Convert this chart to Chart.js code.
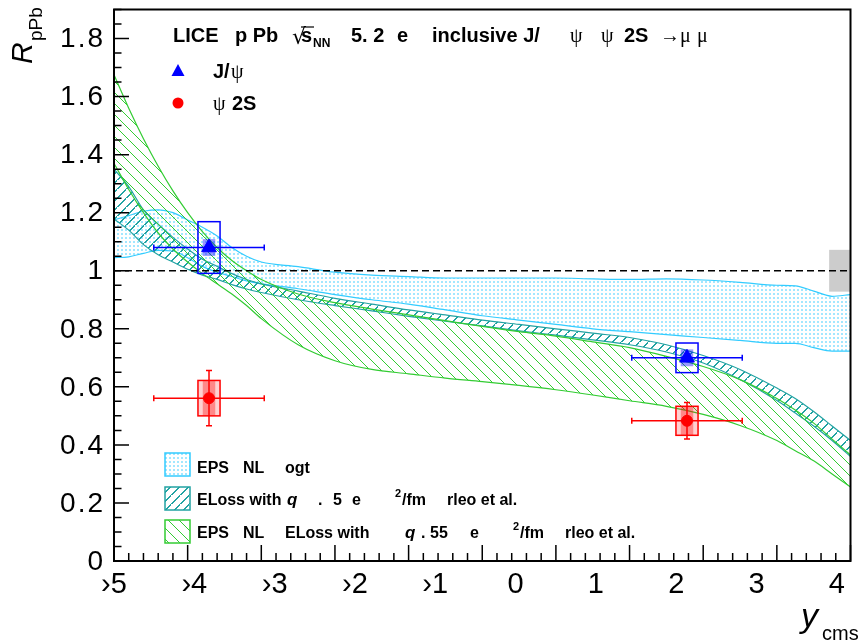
<!DOCTYPE html>
<html>
<head>
<meta charset="utf-8">
<script src="https://cdn.jsdelivr.net/npm/chart.js@4.4.1/dist/chart.umd.min.js"></script>
<style>
  html, body { margin: 0; padding: 0; background: #fff; }
</style>
</head>
<body>
<canvas id="rpPb" width="860" height="644"></canvas>
<script>
// rapidity grid shared by the three model bands
const bandX = [-5, -4.8, -4.6, -4.4, -4.2, -4.0, -3.8, -3.6, -3.4, -3.2, -3.0, -2.5, -2.0, -1.5, -1.0, -0.5, 0, 0.5, 1.0, 1.5, 2.0, 2.5, 3.0, 3.5, 4.0, 4.25, 4.5, 4.75, 5.0];

// EPS09 NLO (Vogt)
const vogtHigh = [1.175, 1.19, 1.205, 1.21, 1.2, 1.175, 1.15, 1.12, 1.08, 1.05, 1.03, 1.014, 0.995, 0.985, 0.98, 0.975, 0.975, 0.975, 0.975, 0.972, 0.97, 0.972, 0.968, 0.96, 0.95, 0.948, 0.93, 0.912, 0.918];
const vogtLow = [1.045, 1.048, 1.06, 1.07, 1.068, 1.045, 1.015, 0.995, 0.98, 0.965, 0.955, 0.938, 0.918, 0.9, 0.885, 0.865, 0.845, 0.83, 0.815, 0.8, 0.79, 0.78, 0.77, 0.76, 0.75, 0.75, 0.735, 0.723, 0.723];

// ELoss (Arleo et al.)
const elossHigh = [1.35, 1.29, 1.21, 1.16, 1.115, 1.075, 1.04, 1.015, 0.99, 0.97, 0.955, 0.93, 0.905, 0.885, 0.865, 0.848, 0.83, 0.815, 0.8, 0.785, 0.77, 0.745, 0.708, 0.66, 0.596, 0.56, 0.515, 0.465, 0.415];
const elossLow = [1.178, 1.14, 1.09, 1.055, 1.03, 1.005, 0.985, 0.97, 0.952, 0.937, 0.925, 0.9, 0.88, 0.862, 0.843, 0.826, 0.81, 0.793, 0.778, 0.762, 0.745, 0.72, 0.682, 0.625, 0.553, 0.51, 0.465, 0.415, 0.36];

// EPS09 NLO + ELoss (Arleo et al.)
const epsElossHigh = [1.675, 1.56, 1.455, 1.36, 1.275, 1.2, 1.135, 1.08, 1.035, 1.0, 0.97, 0.92, 0.89, 0.868, 0.848, 0.828, 0.808, 0.79, 0.775, 0.755, 0.735, 0.705, 0.67, 0.625, 0.56, 0.52, 0.475, 0.42, 0.365];
const epsElossLow = [1.37, 1.28, 1.2, 1.13, 1.075, 1.03, 0.99, 0.955, 0.92, 0.88, 0.835, 0.745, 0.69, 0.66, 0.645, 0.63, 0.618, 0.605, 0.59, 0.572, 0.552, 0.533, 0.505, 0.467, 0.415, 0.38, 0.345, 0.3, 0.255];

// measured points: backward and forward rapidity bins
const binLow = [-4.46, 2.03];
const binHigh = [-2.96, 3.53];
const binCentre = [-3.71, 2.78];
const jpsiR = [1.08, 0.70];
const jpsiStat = [0.015, 0.012];
const jpsiSyst = [0.089, 0.051];
const jpsiCorr = [0.029, 0.029];
const psi2sR = [0.561, 0.483];
const psi2sStat = [0.095, 0.063];
const psi2sSyst = [0.061, 0.05];
const psi2sCorr = [0.061, 0.05];
const globalUnc = 0.072;

// axis labels
const xTickText = ['›5', '›4', '›3', '›2', '›1', '0', '1', '2', '3', '4'];
const yTickValues = [0, 0.2, 0.4, 0.6, 0.8, 1, 1.2, 1.4, 1.6, 1.8];
const yTickText = ['0', '0.2', '0.4', '0.6', '0.8', '1', '1.2', '1.4', '1.6', '1.8'];

const SANS = '"Liberation Sans", Arial, sans-serif';
const SERIF = '"Liberation Serif", serif';
const CYAN = '#33ccff';
const DOTS = '#a3e7ff';
const TEAL = '#22a3a3';
const GREEN = '#33cc33';
const BLUE = '#0000ff';
const RED = '#ff0000';

const ctx = document.getElementById('rpPb').getContext('2d');

// fill styles are built pixel by pixel so the colours stay solid
const makePattern = (size, color, cells) => {
    const c = document.createElement('canvas');
    c.width = size;
    c.height = size;
    const g = c.getContext('2d');
    g.fillStyle = color;
    cells(size).forEach(([px, py, w, h]) => g.fillRect(px, py, w, h));
    return ctx.createPattern(c, 'repeat');
}

const dotFill = makePattern(4, DOTS, () => [[1, 1, 2, 2]]);
const hatchUp = makePattern(9, TEAL, (s) => Array.from({length: s}, (_, i) => [i, s - 1 - i, 2, 1]));
const hatchDown = makePattern(11, GREEN, (s) => Array.from({length: s}, (_, i) => [i, i, 1, 1]));

const toPoints = (ys) => bandX.map((x, i) => ({x: x, y: ys[i]}));

const edge = (values, color, order, fill) => ({
    data: toPoints(values),
    borderColor: color,
    borderWidth: 1.2,
    backgroundColor: fill || 'transparent',
    fill: fill ? '-1' : false,
    pointRadius: 0,
    order: order
});

// boxes and error bars for one species, drawn just before its markers
const drawMeasurement = (chart, vals, stat, syst, corr, color, boxFill, innerFill, vertBar) => {
    const c = chart.ctx;
    const xs = chart.scales.x, ys = chart.scales.y;
    c.save();
    for (let i = 0; i < vals.length; i++) {
        const xc = xs.getPixelForValue(binCentre[i]);
        const yc = ys.getPixelForValue(vals[i]);
        const bx0 = xs.getPixelForValue(binCentre[i] - 0.15);
        const bx1 = xs.getPixelForValue(binCentre[i] + 0.15);
        const by0 = ys.getPixelForValue(vals[i] + syst[i]);
        const by1 = ys.getPixelForValue(vals[i] - syst[i]);
        if (boxFill) {
            c.fillStyle = boxFill;
            c.fillRect(bx0, by0, bx1 - bx0, by1 - by0);
        }
        const ix0 = xs.getPixelForValue(binCentre[i] - 0.085);
        const ix1 = xs.getPixelForValue(binCentre[i] + 0.085);
        const iy0 = ys.getPixelForValue(vals[i] + corr[i]);
        const iy1 = ys.getPixelForValue(vals[i] - corr[i]);
        c.fillStyle = innerFill;
        c.fillRect(ix0, iy0, ix1 - ix0, iy1 - iy0);
        c.strokeStyle = color;
        c.lineWidth = 1.5;
        c.strokeRect(bx0, by0, bx1 - bx0, by1 - by0);

        // horizontal bin width with end caps
        const hx0 = xs.getPixelForValue(binLow[i]);
        const hx1 = xs.getPixelForValue(binHigh[i]);
        c.beginPath();
        c.moveTo(hx0, yc); c.lineTo(hx1, yc);
        c.moveTo(hx0, yc - 3); c.lineTo(hx0, yc + 3);
        c.moveTo(hx1, yc - 3); c.lineTo(hx1, yc + 3);
        // statistical uncertainty
        const sy0 = ys.getPixelForValue(vals[i] + stat[i]);
        const sy1 = ys.getPixelForValue(vals[i] - stat[i]);
        c.moveTo(xc, sy0); c.lineTo(xc, sy1);
        if (vertBar) {
            c.moveTo(xc - 3, sy0); c.lineTo(xc + 3, sy0);
            c.moveTo(xc - 3, sy1); c.lineTo(xc + 3, sy1);
        }
        c.stroke();
    }
    c.restore();
}

const measurementPlugin = {
    id: 'measurements',
    beforeDatasetsDraw(chart) {
        // global normalisation uncertainty at the right edge
        const c = chart.ctx;
        const xs = chart.scales.x, ys = chart.scales.y;
        const x0 = xs.getPixelForValue(4.71), x1 = xs.getPixelForValue(5);
        const y0 = ys.getPixelForValue(1 + globalUnc), y1 = ys.getPixelForValue(1 - globalUnc);
        c.save();
        c.fillStyle = '#cccccc';
        c.fillRect(x0, y0, x1 - x0, y1 - y0);
        c.restore();
    },
    beforeDatasetDraw(chart, args) {
        if (args.index === 7) {
            drawMeasurement(chart, jpsiR, jpsiStat, jpsiSyst, jpsiCorr, BLUE, null, 'rgba(0, 0, 255, 0.4)', false);
        } else if (args.index === 8) {
            drawMeasurement(chart, psi2sR, psi2sStat, psi2sSyst, psi2sCorr, RED, 'rgba(255, 0, 0, 0.18)', 'rgba(255, 0, 0, 0.35)', true);
        }
    }
};

const put = (c, text, x, y, font, color) => {
    c.font = font;
    c.fillStyle = color || '#000';
    c.fillText(text, x, y);
}

const frameAndTextPlugin = {
    id: 'frameAndText',
    afterDraw(chart) {
        const c = chart.ctx;
        const a = chart.chartArea;
        const xs = chart.scales.x, ys = chart.scales.y;
        c.save();

        // frame
        c.strokeStyle = '#000';
        c.lineWidth = 2;
        c.strokeRect(a.left, a.top, a.right - a.left, a.bottom - a.top);

        // ticks pointing inwards
        c.lineWidth = 1.5;
        c.beginPath();
        for (let k = 0; k <= 50; k++) {
            const v = -5 + k * 0.2;
            const px = xs.getPixelForValue(v);
            const len = (k % 5 === 0) ? 16 : 8;
            c.moveTo(px, a.bottom); c.lineTo(px, a.bottom - len);
        }
        for (let k = 0; k <= 38; k++) {
            const v = k * 0.05;
            const py = ys.getPixelForValue(v);
            const len = (k % 4 === 0) ? 15 : 7.5;
            c.moveTo(a.left, py); c.lineTo(a.left + len, py);
        }
        c.stroke();

        // tick labels
        c.textAlign = 'right';
        c.textBaseline = 'middle';
        c.letterSpacing = '2px';
        yTickValues.forEach((v, i) => {
            put(c, yTickText[i], 105, ys.getPixelForValue(v) + 1, '28px ' + SANS);
        });
        c.letterSpacing = '0px';
        c.textAlign = 'center';
        c.textBaseline = 'alphabetic';
        const labelStep = 1.0905;
        xTickText.forEach((t, i) => {
            put(c, t, xs.getPixelForValue(-5 + i * labelStep), 593, '29px ' + SANS);
        });

        // axis titles
        c.textAlign = 'left';
        c.save();
        c.translate(32, 64);
        c.rotate(-Math.PI / 2);
        put(c, 'R', 0, 0, 'italic 30px ' + SANS);
        put(c, 'pPb', 23, 10, '19px ' + SANS);
        c.restore();
        put(c, 'y', 801, 627, 'italic 34px ' + SANS);
        put(c, 'cms', 822, 640, '20px ' + SANS);

        // header
        const hb = 'bold 20px ' + SANS;
        put(c, 'LICE', 173, 42, hb);
        put(c, 'p Pb', 235, 42, hb);
        put(c, '√', 292, 44, '22px "DejaVu Sans"');
        c.lineWidth = 1.2;
        c.beginPath(); c.moveTo(301, 27); c.lineTo(314, 27); c.stroke();
        put(c, 's', 301, 42, hb);
        put(c, 'NN', 313, 47, 'bold 12px ' + SANS);
        put(c, '5. 2', 351, 42, hb);
        put(c, 'e', 397, 42, hb);
        put(c, 'inclusive J/', 432, 42, hb);
        put(c, 'ψ', 570, 42, '20px ' + SERIF);
        put(c, 'ψ', 601, 42, '20px ' + SERIF);
        put(c, '2S', 624, 42, hb);
        put(c, '→μ', 660, 42, '20px ' + SERIF);
        put(c, 'μ', 697, 42, '20px ' + SERIF);

        // marker legend
        c.fillStyle = BLUE;
        c.beginPath();
        c.moveTo(178, 64); c.lineTo(184.5, 76); c.lineTo(171.5, 76); c.closePath();
        c.fill();
        put(c, 'J/', 213, 78, hb);
        put(c, 'ψ', 231, 78, '20px ' + SERIF);
        c.fillStyle = RED;
        c.beginPath(); c.arc(178, 103, 5.5, 0, Math.PI * 2); c.fill();
        put(c, 'ψ', 213, 110, '20px ' + SERIF);
        put(c, '2S', 232, 110, hb);

        // model legend
        const boxes = [[dotFill, CYAN, 453], [hatchUp, TEAL, 487], [hatchDown, GREEN, 520]];
        boxes.forEach(([pat, col, top]) => {
            c.fillStyle = pat;
            c.fillRect(165, top, 25, 23);
            c.strokeStyle = col;
            c.lineWidth = 1.5;
            c.strokeRect(165, top, 25, 23);
        });
        const lb = 'bold 16px ' + SANS;
        const lq = 'bold italic 17px ' + SANS;
        put(c, 'EPS', 197, 473, lb);
        put(c, 'NL', 243, 473, lb);
        put(c, 'ogt', 285, 473, lb);

        put(c, 'ELoss with', 197, 505, lb);
        put(c, 'q', 287, 505, lq);
        put(c, '.', 318, 505, lb);
        put(c, '5', 333, 505, lb);
        put(c, 'e', 352, 505, lb);
        put(c, '2', 395, 497, 'bold 11px ' + SANS);
        put(c, '/fm', 402, 505, lb);
        put(c, 'rleo et al.', 447, 505, lb);

        put(c, 'EPS', 197, 538, lb);
        put(c, 'NL', 243, 538, lb);
        put(c, 'ELoss with', 285, 538, lb);
        put(c, 'q', 405, 538, lq);
        put(c, '.', 421, 538, lb);
        put(c, '55', 430, 538, lb);
        put(c, 'e', 470, 538, lb);
        put(c, '2', 513, 530, 'bold 11px ' + SANS);
        put(c, '/fm', 520, 538, lb);
        put(c, 'rleo et al.', 565, 538, lb);

        c.restore();
    }
};

new Chart(ctx, {
    type: 'line',
    data: {
        datasets: [
            edge(vogtLow, CYAN, 10),
            edge(vogtHigh, CYAN, 10, dotFill),
            edge(elossLow, TEAL, 9),
            edge(elossHigh, TEAL, 9, hatchUp),
            edge(epsElossLow, GREEN, 8),
            edge(epsElossHigh, GREEN, 8, hatchDown),
            {
                data: [{x: -5, y: 1}, {x: 5, y: 1}],
                borderColor: '#000',
                borderWidth: 1.3,
                borderDash: [7, 4],
                pointRadius: 0,
                fill: false,
                order: 7
            },
            {
                data: binCentre.map((x, i) => ({x: x, y: jpsiR[i]})),
                showLine: false,
                pointStyle: 'triangle',
                pointRadius: 8.5,
                pointBackgroundColor: BLUE,
                pointBorderColor: BLUE,
                pointBorderWidth: 1,
                order: 2
            },
            {
                data: binCentre.map((x, i) => ({x: x, y: psi2sR[i]})),
                showLine: false,
                pointStyle: 'circle',
                pointRadius: 5.5,
                pointBackgroundColor: RED,
                pointBorderColor: RED,
                pointBorderWidth: 1,
                order: 1
            }
        ]
    },
    options: {
        responsive: false,
        animation: false,
        layout: {
            padding: {left: 114, right: 2, top: 6, bottom: 83}
        },
        elements: {
            line: {cubicInterpolationMode: 'monotone'}
        },
        scales: {
            x: {type: 'linear', min: -5, max: 5, display: false},
            y: {type: 'linear', min: 0, max: 1.9, display: false}
        },
        plugins: {
            legend: {display: false},
            tooltip: {enabled: false}
        }
    },
    plugins: [measurementPlugin, frameAndTextPlugin]
});
</script>
</body>
</html>
